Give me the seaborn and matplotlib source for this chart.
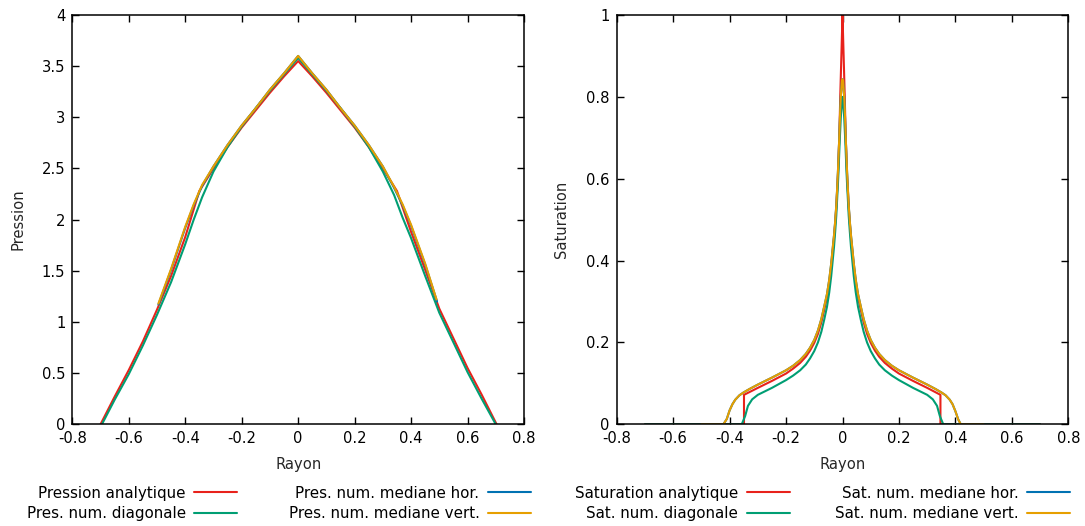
import numpy as np
import pandas as pd
import matplotlib
matplotlib.use("Agg")
import matplotlib.pyplot as plt
import seaborn as sns
from matplotlib.ticker import FuncFormatter, MultipleLocator

# ---------------- data: pressure ----------------
p_ana_x = [-0.70, -0.65, -0.60, -0.55, -0.50, -0.45, -0.40, -0.35, -0.30, -0.25, -0.20, -0.15, -0.10, -0.05, 0.00,
           0.05, 0.10, 0.15, 0.20, 0.25, 0.30, 0.35, 0.40, 0.45, 0.50, 0.55, 0.60, 0.65, 0.703]
p_ana_y = [0.00, 0.27, 0.53, 0.81, 1.12, 1.45, 1.83, 2.28, 2.50, 2.71, 2.90, 3.07, 3.24, 3.40, 3.55,
           3.40, 3.24, 3.07, 2.90, 2.71, 2.50, 2.28, 1.88, 1.51, 1.13, 0.84, 0.55, 0.29, 0.00]

p_diag_x = [-0.695, -0.65, -0.60, -0.55, -0.50, -0.45, -0.40, -0.37, -0.34, -0.30, -0.25, -0.20, -0.15, -0.10, -0.05, 0.00,
            0.05, 0.10, 0.15, 0.20, 0.25, 0.30, 0.34, 0.37, 0.40, 0.45, 0.50, 0.55, 0.60, 0.65, 0.70]
p_diag_y = [0.00, 0.24, 0.49, 0.77, 1.07, 1.39, 1.76, 2.00, 2.22, 2.47, 2.71, 2.91, 3.09, 3.26, 3.42, 3.58,
            3.42, 3.26, 3.09, 2.91, 2.71, 2.47, 2.24, 2.02, 1.82, 1.45, 1.09, 0.80, 0.51, 0.25, 0.00]

p_hor_x = [-0.495, -0.45, -0.40, -0.37, -0.34, -0.30, -0.25, -0.20, -0.15, -0.10, -0.05, 0.00,
           0.05, 0.10, 0.15, 0.20, 0.25, 0.30, 0.34, 0.37, 0.40, 0.45, 0.492]
p_hor_y = [1.17, 1.51, 1.92, 2.14, 2.33, 2.52, 2.73, 2.92, 3.09, 3.27, 3.43, 3.60,
           3.43, 3.27, 3.09, 2.92, 2.73, 2.52, 2.31, 2.14, 1.94, 1.56, 1.20]

p_vert_x = [-0.495, -0.45, -0.40, -0.37, -0.34, -0.30, -0.25, -0.20, -0.15, -0.10, -0.05, 0.00,
            0.05, 0.10, 0.15, 0.20, 0.25, 0.30, 0.34, 0.37, 0.40, 0.45, 0.49]
p_vert_y = [1.18, 1.52, 1.93, 2.15, 2.34, 2.52, 2.73, 2.92, 3.09, 3.27, 3.43, 3.60,
            3.43, 3.27, 3.09, 2.92, 2.73, 2.52, 2.32, 2.15, 1.95, 1.57, 1.22]

# ---------------- data: saturation ----------------
s_ana_x = [-0.70, -0.349, -0.349, -0.30, -0.25, -0.20, -0.175, -0.15, -0.13, -0.115, -0.10, -0.087, -0.075,
           -0.065, -0.055, -0.047, -0.040, -0.035, -0.030, -0.026, -0.022, -0.019, -0.016, -0.014, -0.012,
           -0.010, -0.008, -0.006, -0.004, -0.002, 0.0,
           0.002, 0.004, 0.006, 0.008, 0.010, 0.012, 0.014, 0.016, 0.019, 0.022, 0.026, 0.030, 0.035, 0.040,
           0.047, 0.055, 0.065, 0.075, 0.087, 0.10, 0.115, 0.13, 0.15, 0.175, 0.20, 0.25, 0.30, 0.347, 0.347, 0.70]
s_ana_y = [0.0, 0.0, 0.072, 0.089, 0.106, 0.124, 0.136, 0.150, 0.165, 0.180, 0.199, 0.221, 0.249,
           0.279, 0.310, 0.345, 0.385, 0.420, 0.455, 0.490, 0.530, 0.570, 0.610, 0.650, 0.690,
           0.740, 0.800, 0.850, 0.900, 0.950, 1.000,
           0.950, 0.900, 0.850, 0.800, 0.740, 0.690, 0.650, 0.610, 0.570, 0.530, 0.490, 0.455, 0.420, 0.385,
           0.345, 0.310, 0.279, 0.249, 0.221, 0.199, 0.180, 0.165, 0.150, 0.136, 0.124, 0.106, 0.089, 0.072, 0.0, 0.0]

s_diag_x = [-0.70, -0.357, -0.345, -0.335, -0.32, -0.30, -0.25, -0.20, -0.175, -0.15, -0.13, -0.115, -0.10,
            -0.087, -0.075, -0.065, -0.055, -0.047, -0.040, -0.035, -0.030, -0.026, -0.022, -0.019, -0.016,
            -0.014, -0.012, -0.010, -0.008, -0.006, -0.004, -0.002, 0.0,
            0.002, 0.004, 0.006, 0.008, 0.010, 0.012, 0.014, 0.016, 0.019, 0.022, 0.026, 0.030, 0.035, 0.040,
            0.047, 0.055, 0.065, 0.075, 0.087, 0.10, 0.115, 0.13, 0.15, 0.175, 0.20, 0.25, 0.30, 0.32, 0.335,
            0.345, 0.357, 0.70]
s_diag_y = [0.0, 0.0, 0.020, 0.045, 0.061, 0.072, 0.089, 0.108, 0.119, 0.132, 0.146, 0.161, 0.179,
            0.200, 0.226, 0.255, 0.287, 0.322, 0.362, 0.398, 0.434, 0.470, 0.510, 0.550, 0.590,
            0.620, 0.655, 0.690, 0.720, 0.750, 0.770, 0.790, 0.800,
            0.790, 0.770, 0.750, 0.720, 0.690, 0.655, 0.620, 0.590, 0.550, 0.510, 0.470, 0.434, 0.398, 0.362,
            0.322, 0.287, 0.255, 0.226, 0.200, 0.179, 0.161, 0.146, 0.132, 0.119, 0.108, 0.089, 0.072, 0.061, 0.045,
            0.020, 0.0, 0.0]

s_hor_x = [-0.50, -0.422, -0.41, -0.40, -0.39, -0.38, -0.365, -0.35, -0.33, -0.30, -0.25, -0.20, -0.175,
           -0.15, -0.13, -0.115, -0.10, -0.087, -0.075, -0.065, -0.055, -0.047, -0.040, -0.035, -0.030,
           -0.026, -0.022, -0.019, -0.016, -0.014, -0.012, -0.010, -0.008, -0.006, -0.004, -0.002, 0.0,
           0.002, 0.004, 0.006, 0.008, 0.010, 0.012, 0.014, 0.016, 0.019, 0.022, 0.026, 0.030, 0.035, 0.040,
           0.047, 0.055, 0.065, 0.075, 0.087, 0.10, 0.115, 0.13, 0.15, 0.175, 0.20, 0.25, 0.30, 0.33, 0.35,
           0.365, 0.38, 0.39, 0.40, 0.41, 0.419, 0.50]
s_hor_y = [0.0, 0.0, 0.013, 0.034, 0.049, 0.060, 0.071, 0.078, 0.086, 0.097, 0.114, 0.132, 0.143,
           0.157, 0.172, 0.187, 0.206, 0.229, 0.257, 0.287, 0.318, 0.353, 0.393, 0.428, 0.462,
           0.495, 0.535, 0.575, 0.620, 0.655, 0.690, 0.730, 0.770, 0.800, 0.820, 0.840, 0.843,
           0.840, 0.820, 0.800, 0.770, 0.730, 0.690, 0.655, 0.620, 0.575, 0.535, 0.495, 0.462, 0.428, 0.393,
           0.353, 0.318, 0.287, 0.257, 0.229, 0.206, 0.187, 0.172, 0.157, 0.143, 0.132, 0.114, 0.097, 0.086, 0.078,
           0.071, 0.060, 0.049, 0.032, 0.012, 0.0, 0.0]

s_vert_x = list(s_hor_x)
s_vert_y = list(s_hor_y)

# ---------------- labels ----------------
p_labels = ["Pression analytique", "Pres. num. diagonale", "Pres. num. mediane hor.", "Pres. num. mediane vert."]
s_labels = ["Saturation analytique", "Sat. num. diagonale", "Sat. num. mediane hor.", "Sat. num. mediane vert."]
colors = ["#e8221b", "#009e73", "#0072b2", "#e69f00"]

x_ticks = [-0.8, -0.6, -0.4, -0.2, 0.0, 0.2, 0.4, 0.6, 0.8]

# ---------------- style ----------------
sns.set_style("ticks")
plt.rcParams["font.family"] = ["DejaVu Sans"]
plt.rcParams["axes.unicode_minus"] = False
FS = 10.6
LFS = 10.9

W, H = 1085, 526
fig = plt.figure(figsize=(W / 100, H / 100), dpi=100)
fig.patch.set_facecolor("white")

def frac(l, r, t, b):
    return [l / W, 1 - b / H, (r - l) / W, (b - t) / H]

ax1 = fig.add_axes(frac(72.3, 524.0, 15.0, 424.3))
ax2 = fig.add_axes(frac(616.7, 1068.3, 15.0, 424.3))

fmt = FuncFormatter(lambda v, p: "%g" % round(v, 6))

def draw(ax, series, labels, ylim, ystep, ylabel, leg_x, colsp):
    for (xs, ys), lab, col in zip(series, labels, colors):
        df = pd.DataFrame({"x": xs, "y": ys})
        sns.lineplot(data=df, x="x", y="y", ax=ax, color=col, lw=1.5,
                     estimator=None, sort=False, label=lab)
    ax.set_xlim(-0.8, 0.8)
    ax.set_ylim(*ylim)
    ax.set_xticks(x_ticks)
    ax.yaxis.set_major_locator(MultipleLocator(ystep))
    ax.xaxis.set_major_formatter(fmt)
    ax.yaxis.set_major_formatter(fmt)
    ax.tick_params(direction="in", length=5, width=1, top=True, right=True,
                   labelsize=FS, colors="black", pad=5)
    for s in ax.spines.values():
        s.set_visible(True)
        s.set_linewidth(1.1)
        s.set_color("black")
    ax.set_xlabel("Rayon", fontsize=FS, labelpad=8)
    ax.set_ylabel(ylabel, fontsize=FS, labelpad=12)
    leg = ax.legend(loc="upper center", bbox_to_anchor=(leg_x, -0.15), ncol=2,
                    frameon=False, markerfirst=False, fontsize=LFS,
                    handlelength=2.85, handletextpad=0.55, columnspacing=colsp,
                    labelspacing=0.38, borderpad=0, borderaxespad=0)
    for t in leg.get_texts():
        t.set_color("black")

draw(ax1, [(p_ana_x, p_ana_y), (p_diag_x, p_diag_y), (p_hor_x, p_hor_y), (p_vert_x, p_vert_y)],
     p_labels, (0, 4), 0.5, "Pression", 0.457, 3.4)
draw(ax2, [(s_ana_x, s_ana_y), (s_diag_x, s_diag_y), (s_hor_x, s_hor_y), (s_vert_x, s_vert_y)],
     s_labels, (0, 1), 0.2, "Saturation", 0.456, 3.0)

fig.savefig("out.png", dpi=100, facecolor="white")
